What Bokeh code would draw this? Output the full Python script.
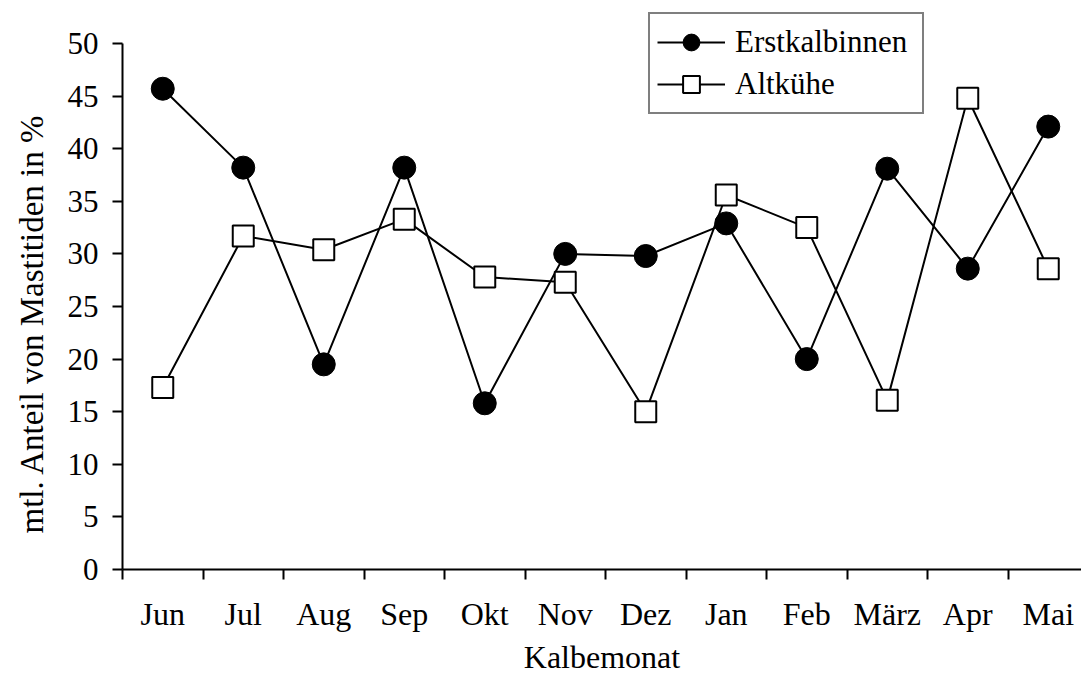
from bokeh.plotting import figure
from bokeh.models import (Range1d, FixedTicker, SingleIntervalTicker, Legend, LegendItem,
                          ColumnDataSource, Title)
from bokeh.embed import file_html
from bokeh.resources import INLINE

months = ["Jun", "Jul", "Aug", "Sep", "Okt", "Nov", "Dez", "Jan", "Feb", "März", "Apr", "Mai"]
erstkalbinnen = [45.7, 38.2, 19.5, 38.2, 15.8, 30.0, 29.8, 32.9, 20.0, 38.1, 28.6, 42.1]
altkuehe = [17.3, 31.7, 30.4, 33.3, 27.8, 27.3, 15.0, 35.6, 32.5, 16.1, 44.8, 28.6]
y_ticks_interval = 5
y_max = 50

FONT = "Liberation Serif"
idx = list(range(len(months)))
src = ColumnDataSource(dict(x=idx, e=erstkalbinnen, a=altkuehe))

W, H = 1081, 677
ML, MT, MB = 122, 0, 108
frame_w = W - ML
frame_h = H - MT - MB
cat_px = 80.5
x_end = -0.5 + frame_w / cat_px
px_per_unit = 526 / y_max
y_end = frame_h / px_per_unit

p = figure(width=W, height=H, output_backend="svg", toolbar_location=None,
           x_range=Range1d(-0.5, x_end), y_range=Range1d(0, y_end),
           min_border_left=ML, min_border_right=0, min_border_top=MT, min_border_bottom=MB)
p.outline_line_color = None
p.xgrid.visible = False
p.ygrid.visible = False
p.background_fill_color = "white"
p.border_fill_color = "white"

l1 = p.line("x", "e", source=src, line_color="black", line_width=2)
s1 = p.scatter("x", "e", source=src, marker="circle", size=23, fill_color="black", line_color="black")
l2 = p.line("x", "a", source=src, line_color="black", line_width=2)
s2 = p.scatter("x", "a", source=src, marker="square", size=21, fill_color="white",
               line_color="black", line_width=2)

# x axis
xa = p.xaxis[0]
xa.ticker = FixedTicker(ticks=idx, minor_ticks=[i - 0.5 for i in range(len(months) + 1)])
xa.major_label_overrides = {i: m for i, m in enumerate(months)}
xa.major_tick_out = 0
xa.major_tick_in = 0
xa.minor_tick_out = 10
xa.minor_tick_in = 0
xa.minor_tick_line_color = "black"
xa.minor_tick_line_width = 2
xa.axis_line_width = 2
xa.axis_line_color = "black"
xa.major_label_text_font = FONT
xa.major_label_text_font_size = "32px"
xa.major_label_text_color = "black"
xa.major_label_standoff = 16
xa.axis_label = "Kalbemonat"
xa.axis_label_text_font = FONT
xa.axis_label_text_font_size = "32px"
xa.axis_label_text_font_style = "normal"
xa.axis_label_text_color = "black"
xa.axis_label_standoff = 4

# y axis
ya = p.yaxis[0]
ya.ticker = SingleIntervalTicker(interval=y_ticks_interval, num_minor_ticks=0)
ya.bounds = (0, y_max)
ya.major_tick_out = 10
ya.major_tick_in = 0
ya.major_tick_line_width = 2
ya.major_tick_line_color = "black"
ya.minor_tick_line_color = None
ya.axis_line_width = 2
ya.axis_line_color = "black"
ya.major_label_text_font = FONT
ya.major_label_text_font_size = "31px"
ya.major_label_text_color = "black"
ya.major_label_standoff = 14

ytitle = Title(text="mtl. Anteil von Mastitiden in %", align="left", vertical_align="top",
               offset=36, text_font=FONT, text_font_size="33px", text_font_style="normal",
               text_color="black", standoff=26, text_line_height=0.9)
p.add_layout(ytitle, "left")

legend = Legend(items=[LegendItem(label="Erstkalbinnen", renderers=[l1, s1]),
                       LegendItem(label="Altkühe", renderers=[l2, s2])],
                location=(526, 455), orientation="vertical")
legend.label_text_font = FONT
legend.label_text_font_size = "31px"
legend.label_text_color = "black"
legend.glyph_width = 68
legend.glyph_height = 42
legend.spacing = 0
legend.padding = 7
legend.margin = 0
legend.label_standoff = 10
legend.label_width = 180
legend.border_line_color = "black"
legend.border_line_width = 2
legend.background_fill_color = "white"
legend.background_fill_alpha = 1
p.add_layout(legend, "center")

open("out.html", "w").write(file_html(p, INLINE))
